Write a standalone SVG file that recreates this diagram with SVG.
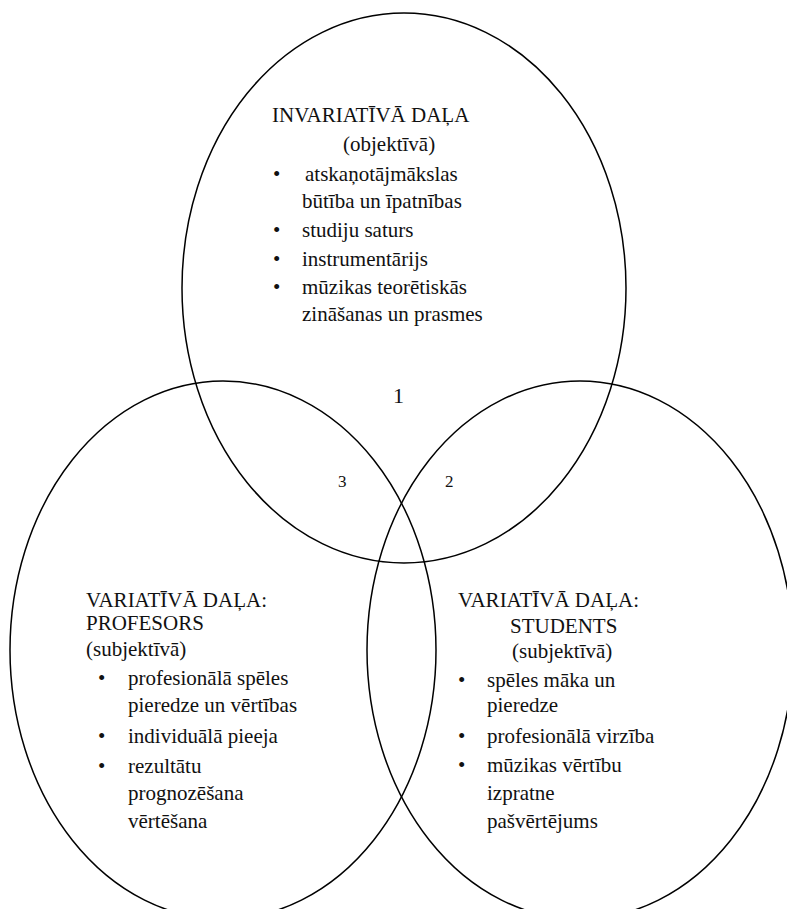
<svg xmlns="http://www.w3.org/2000/svg" width="787" height="909" viewBox="0 0 787 909">
<style>
.e{fill:none;stroke:#000;stroke-width:1.5}
text{font-family:"Liberation Serif","Times New Roman",serif;fill:#111;font-size:21px}
.n1{font-size:22px}
.n{font-size:17px}
</style>
<rect width="787" height="909" fill="#fff"/>
<g id="connectors"></g>
<g id="top">
<ellipse class="e" cx="404" cy="288" rx="222" ry="275"/>
<text x="272" y="122">INVARIATĪVĀ DAĻA</text>
<text x="343" y="151">(objektīvā)</text>
<text x="273" y="181">•</text><text x="305" y="181">atskaņotājmākslas</text>
<text x="302" y="208">būtība un īpatnības</text>
<text x="273" y="237">•</text><text x="302" y="237">studiju saturs</text>
<text x="273" y="266">•</text><text x="302" y="266">instrumentārijs</text>
<text x="273" y="294">•</text><text x="302" y="294">mūzikas teorētiskās</text>
<text x="302" y="321">zināšanas un prasmes</text>
</g>
<g id="left">
<ellipse class="e" cx="223" cy="650" rx="213" ry="269"/>
<text x="86" y="607">VARIATĪVĀ DAĻA:</text>
<text x="86" y="630">PROFESORS</text>
<text x="86" y="656">(subjektīvā)</text>
<text x="98" y="685">•</text><text x="128" y="685">profesionālā spēles</text>
<text x="128" y="712">pieredze un vērtības</text>
<text x="98" y="743">•</text><text x="128" y="743">individuālā pieeja</text>
<text x="98" y="773">•</text><text x="128" y="773">rezultātu</text>
<text x="128" y="800">prognozēšana</text>
<text x="128" y="828">vērtēšana</text>
</g>
<g id="right">
<ellipse class="e" cx="580" cy="650" rx="213" ry="269"/>
<text x="458" y="607">VARIATĪVĀ DAĻA:</text>
<text x="510" y="633">STUDENTS</text>
<text x="512" y="658">(subjektīvā)</text>
<text x="458" y="687">•</text><text x="487" y="687">spēles māka un</text>
<text x="487" y="712">pieredze</text>
<text x="458" y="743">•</text><text x="487" y="743">profesionālā virzība</text>
<text x="458" y="772">•</text><text x="487" y="772">mūzikas vērtību</text>
<text x="487" y="800">izpratne</text>
<text x="487" y="828">pašvērtējums</text>
</g>
<g id="labels">
<text class="n1" x="393" y="403">1</text>
<text class="n" x="338" y="487">3</text>
<text class="n" x="445" y="487">2</text>
</g>
</svg>
